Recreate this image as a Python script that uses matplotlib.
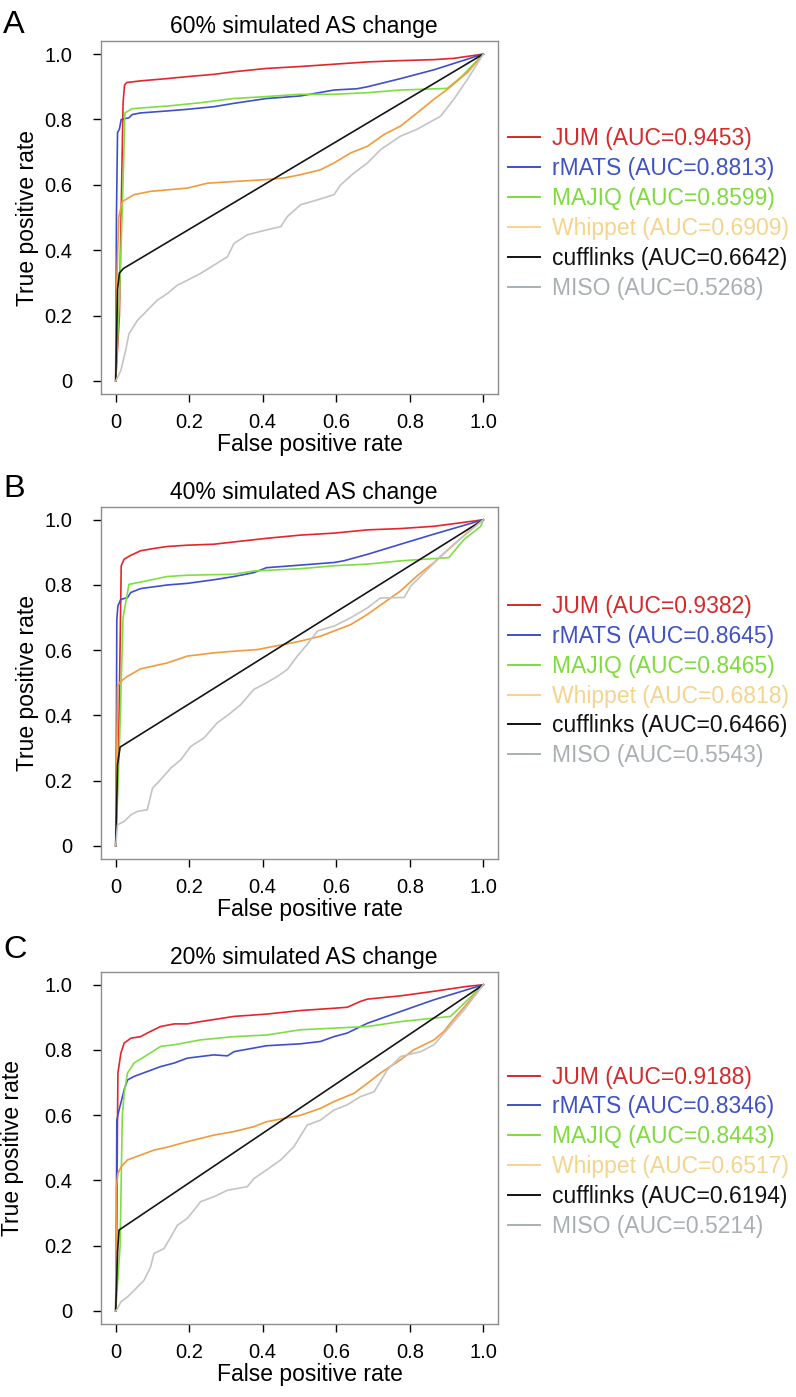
import matplotlib
matplotlib.use("Agg")
import matplotlib.pyplot as plt
from matplotlib.lines import Line2D

plt.rcParams['font.family'] = ['Liberation Sans', 'DejaVu Sans']

# ---- DATA ----
methods = ['JUM', 'rMATS', 'MAJIQ', 'Whippet', 'cufflinks', 'MISO']
titles = ['60% simulated AS change', '40% simulated AS change', '20% simulated AS change']
letters = ['A', 'B', 'C']
auc_a = [0.9453, 0.8813, 0.8599, 0.6909, 0.6642, 0.5268]
auc_b = [0.9382, 0.8645, 0.8465, 0.6818, 0.6466, 0.5543]
auc_c = [0.9188, 0.8346, 0.8443, 0.6517, 0.6194, 0.5214]
tick_vals = [0, 0.2, 0.4, 0.6, 0.8, 1.0]
tick_labels = ['0', '0.2', '0.4', '0.6', '0.8', '1.0']

# panel A (60%)
jum_a_x = [0, 0.01, 0.02, 0.024, 0.03, 0.068, 0.14, 0.195, 0.267, 0.322, 0.41, 0.503, 0.594, 0.685, 0.775, 0.866, 0.92, 1.0]
jum_a_y = [0, 0.2, 0.85, 0.905, 0.913, 0.918, 0.925, 0.931, 0.938, 0.946, 0.956, 0.962, 0.969, 0.976, 0.98, 0.983, 0.987, 1.0]
rmats_a_x = [0, 0.002, 0.005, 0.01, 0.015, 0.036, 0.045, 0.068, 0.14, 0.195, 0.267, 0.32, 0.41, 0.503, 0.594, 0.657, 0.685, 0.775, 0.866, 1.0]
rmats_a_y = [0, 0.5, 0.76, 0.77, 0.80, 0.805, 0.815, 0.82, 0.826, 0.831, 0.839, 0.849, 0.864, 0.872, 0.89, 0.894, 0.90, 0.925, 0.952, 1.0]
majiq_a_x = [0, 0.01, 0.02, 0.025, 0.045, 0.14, 0.23, 0.32, 0.41, 0.50, 0.594, 0.685, 0.775, 0.902, 0.94, 1.0]
majiq_a_y = [0, 0.25, 0.6, 0.82, 0.833, 0.841, 0.851, 0.864, 0.87, 0.877, 0.877, 0.882, 0.89, 0.895, 0.93, 1.0]
whip_a_x = [0, 0.003, 0.008, 0.018, 0.05, 0.095, 0.195, 0.25, 0.32, 0.41, 0.458, 0.503, 0.557, 0.594, 0.64, 0.685, 0.73, 0.775, 0.82, 0.866, 0.902, 0.957, 1.0]
whip_a_y = [0, 0.3, 0.5, 0.549, 0.57, 0.58, 0.59, 0.605, 0.61, 0.616, 0.621, 0.631, 0.646, 0.667, 0.698, 0.718, 0.754, 0.78, 0.82, 0.862, 0.892, 0.944, 1.0]
cuff_a_x = [0, 0.005, 0.01, 0.021, 1.0]
cuff_a_y = [0, 0.28, 0.33, 0.344, 1.0]
miso_a_x = [0, 0.014, 0.027, 0.036, 0.045, 0.059, 0.086, 0.113, 0.14, 0.168, 0.195, 0.231, 0.267, 0.304, 0.322, 0.358, 0.41, 0.449, 0.467, 0.503, 0.549, 0.594, 0.612, 0.648, 0.685, 0.721, 0.775, 0.82, 0.884, 0.92, 0.957, 1.0]
miso_a_y = [0, 0.032, 0.093, 0.144, 0.16, 0.185, 0.216, 0.247, 0.267, 0.293, 0.308, 0.329, 0.354, 0.38, 0.421, 0.447, 0.462, 0.472, 0.503, 0.539, 0.554, 0.57, 0.6, 0.636, 0.667, 0.708, 0.749, 0.77, 0.81, 0.862, 0.923, 1.0]

# panel B (40%)
jum_b_x = [0, 0.008, 0.015, 0.023, 0.041, 0.068, 0.104, 0.14, 0.195, 0.267, 0.322, 0.41, 0.503, 0.594, 0.685, 0.775, 0.866, 0.90, 1.0]
jum_b_y = [0, 0.3, 0.859, 0.879, 0.891, 0.905, 0.912, 0.918, 0.922, 0.925, 0.932, 0.943, 0.953, 0.959, 0.969, 0.973, 0.98, 0.985, 1.0]
rmats_b_x = [0, 0.002, 0.003, 0.006, 0.014, 0.032, 0.041, 0.068, 0.14, 0.195, 0.267, 0.322, 0.376, 0.41, 0.503, 0.594, 0.62, 0.685, 0.775, 0.866, 1.0]
rmats_b_y = [0, 0.4, 0.695, 0.736, 0.756, 0.761, 0.777, 0.789, 0.80, 0.805, 0.816, 0.826, 0.838, 0.853, 0.861, 0.869, 0.874, 0.894, 0.925, 0.956, 1.0]
majiq_b_x = [0, 0.01, 0.02, 0.036, 0.068, 0.14, 0.195, 0.322, 0.376, 0.503, 0.594, 0.685, 0.775, 0.906, 0.948, 0.993, 1.0]
majiq_b_y = [0, 0.3, 0.7, 0.802, 0.809, 0.826, 0.83, 0.833, 0.843, 0.85, 0.859, 0.864, 0.874, 0.884, 0.94, 0.98, 1.0]
whip_b_x = [0, 0.003, 0.005, 0.014, 0.032, 0.068, 0.14, 0.195, 0.267, 0.322, 0.385, 0.458, 0.503, 0.557, 0.594, 0.64, 0.685, 0.73, 0.775, 0.82, 0.866, 0.911, 0.957, 1.0]
whip_b_y = [0, 0.3, 0.49, 0.505, 0.52, 0.543, 0.561, 0.582, 0.592, 0.597, 0.602, 0.618, 0.628, 0.643, 0.659, 0.679, 0.71, 0.746, 0.782, 0.828, 0.869, 0.915, 0.961, 1.0]
cuff_b_x = [0, 0.005, 0.012, 1.0]
cuff_b_y = [0, 0.25, 0.303, 1.0]
miso_b_x = [0, 0.005, 0.023, 0.041, 0.059, 0.086, 0.1, 0.122, 0.15, 0.177, 0.204, 0.24, 0.276, 0.313, 0.34, 0.376, 0.41, 0.44, 0.467, 0.494, 0.521, 0.549, 0.594, 0.64, 0.685, 0.72, 0.785, 0.803, 0.885, 0.92, 1.0]
miso_b_y = [0, 0.065, 0.075, 0.095, 0.106, 0.111, 0.177, 0.203, 0.239, 0.264, 0.305, 0.331, 0.377, 0.408, 0.433, 0.48, 0.50, 0.52, 0.541, 0.582, 0.618, 0.659, 0.674, 0.70, 0.73, 0.76, 0.762, 0.797, 0.889, 0.925, 1.0]

# panel C (20%)
jum_c_x = [0, 0.003, 0.005, 0.006, 0.014, 0.023, 0.041, 0.068, 0.086, 0.122, 0.159, 0.195, 0.231, 0.322, 0.41, 0.503, 0.594, 0.63, 0.666, 0.685, 0.775, 0.866, 0.956, 1.0]
jum_c_y = [0, 0.3, 0.6, 0.729, 0.79, 0.821, 0.836, 0.841, 0.852, 0.872, 0.88, 0.88, 0.887, 0.903, 0.91, 0.921, 0.928, 0.931, 0.949, 0.956, 0.966, 0.98, 0.995, 1.0]
rmats_c_x = [0, 0.002, 0.003, 0.009, 0.015, 0.023, 0.032, 0.05, 0.086, 0.122, 0.159, 0.195, 0.267, 0.304, 0.322, 0.376, 0.41, 0.503, 0.557, 0.594, 0.63, 0.685, 0.775, 0.866, 1.0]
rmats_c_y = [0, 0.3, 0.585, 0.616, 0.642, 0.678, 0.708, 0.719, 0.734, 0.749, 0.76, 0.775, 0.785, 0.782, 0.795, 0.806, 0.813, 0.819, 0.826, 0.841, 0.852, 0.882, 0.918, 0.954, 1.0]
majiq_c_x = [0, 0.012, 0.018, 0.023, 0.032, 0.05, 0.086, 0.122, 0.159, 0.231, 0.322, 0.41, 0.503, 0.594, 0.685, 0.775, 0.911, 1.0]
majiq_c_y = [0, 0.2, 0.6, 0.667, 0.729, 0.76, 0.785, 0.811, 0.816, 0.831, 0.841, 0.846, 0.862, 0.867, 0.872, 0.887, 0.903, 1.0]
whip_c_x = [0, 0.002, 0.006, 0.015, 0.032, 0.068, 0.104, 0.14, 0.195, 0.267, 0.322, 0.376, 0.41, 0.503, 0.557, 0.594, 0.648, 0.685, 0.721, 0.775, 0.81, 0.866, 0.893, 0.911, 1.0]
whip_c_y = [0, 0.38, 0.422, 0.442, 0.463, 0.478, 0.493, 0.502, 0.519, 0.539, 0.55, 0.565, 0.58, 0.60, 0.621, 0.642, 0.667, 0.698, 0.73, 0.77, 0.80, 0.831, 0.857, 0.883, 1.0]
cuff_c_x = [0, 0.005, 0.009, 1.0]
cuff_c_y = [0, 0.18, 0.248, 1.0]
miso_c_x = [0, 0.005, 0.014, 0.032, 0.05, 0.077, 0.095, 0.104, 0.131, 0.15, 0.168, 0.195, 0.213, 0.231, 0.267, 0.304, 0.358, 0.376, 0.41, 0.449, 0.485, 0.521, 0.557, 0.594, 0.63, 0.666, 0.703, 0.739, 0.775, 0.83, 0.866, 0.948, 1.0]
miso_c_y = [0, 0.007, 0.028, 0.043, 0.063, 0.094, 0.135, 0.176, 0.191, 0.227, 0.263, 0.284, 0.309, 0.335, 0.35, 0.37, 0.381, 0.406, 0.432, 0.463, 0.504, 0.57, 0.585, 0.616, 0.632, 0.657, 0.672, 0.739, 0.78, 0.795, 0.816, 0.923, 1.0]

# ---- STYLE ----
line_colors = ['#E2262D', '#3F4FCB', '#7EDF44', '#F29A3C', '#151515', '#C4C4C4']
legend_colors = ['#D42A2A', '#3F52C6', '#7EDC3C', '#F5D48C', '#111111', '#A9B0B3']

curves = [
    [(jum_a_x, jum_a_y), (rmats_a_x, rmats_a_y), (majiq_a_x, majiq_a_y),
     (whip_a_x, whip_a_y), (cuff_a_x, cuff_a_y), (miso_a_x, miso_a_y)],
    [(jum_b_x, jum_b_y), (rmats_b_x, rmats_b_y), (majiq_b_x, majiq_b_y),
     (whip_b_x, whip_b_y), (cuff_b_x, cuff_b_y), (miso_b_x, miso_b_y)],
    [(jum_c_x, jum_c_y), (rmats_c_x, rmats_c_y), (majiq_c_x, majiq_c_y),
     (whip_c_x, whip_c_y), (cuff_c_x, cuff_c_y), (miso_c_x, miso_c_y)],
]
aucs = [auc_a, auc_b, auc_c]

W, H = 796, 1397
fig = plt.figure(figsize=(W / 100, H / 100), dpi=100)

# axes boxes in pixels: left, top, right, bottom
boxes = [(101, 41, 498, 394), (101, 506.7, 498, 859), (101, 971.7, 498, 1324)]
letter_base = [33.3, 497, 958.3]
legend_y = [0.511, 0.505, 0.489]
ylabel_x = [-0.156, -0.155, -0.194]

for i in range(3):
    l, t, r, b = boxes[i]
    ax = fig.add_axes([l / W, 1 - b / H, (r - l) / W, (b - t) / H])
    for (xs, ys), c in zip(curves[i], line_colors):
        ax.plot(xs, ys, color=c, lw=1.2, solid_joinstyle='round')
    ax.set_xlim(-0.04, 1.04)
    ax.set_ylim(-0.04, 1.04)
    ax.set_xticks(tick_vals)
    ax.set_xticklabels(tick_labels)
    ax.set_yticks(tick_vals)
    ax.set_yticklabels(tick_labels)
    ax.tick_params(direction='out', length=5.5, width=1.0, color='black', labelsize=14.5)
    ax.tick_params(axis='x', pad=8)
    ax.tick_params(axis='y', pad=15)
    for sp in ax.spines.values():
        sp.set_color('#8E8E8E')
        sp.set_linewidth(1.0)

    ax.set_title(titles[i], fontsize=16.5, pad=5.5)
    ax.title.set_x(0.511)
    ax.set_xlabel('False positive rate', fontsize=16.5)
    ax.xaxis.set_label_coords(0.526, -0.11)
    ax.set_ylabel('True positive rate', fontsize=16.5)
    ax.yaxis.set_label_coords(ylabel_x[i], 0.5)

    handles = [Line2D([0], [0], color=c, lw=1.4) for c in legend_colors]
    labels = ['%s (AUC=%.4f)' % (m, a) for m, a in zip(methods, aucs[i])]
    leg = ax.legend(handles, labels, loc='center left', bbox_to_anchor=(1.024, legend_y[i]),
                    frameon=False, fontsize=16.5, handlelength=1.43, handletextpad=0.52,
                    labelspacing=0.30, borderpad=0, borderaxespad=0)
    for txt, c in zip(leg.get_texts(), legend_colors):
        txt.set_color(c)

    fig.text(3 / W, 1 - letter_base[i] / H, letters[i], fontsize=23.4, ha='left', va='baseline')

fig.savefig('out.png', dpi=100)
